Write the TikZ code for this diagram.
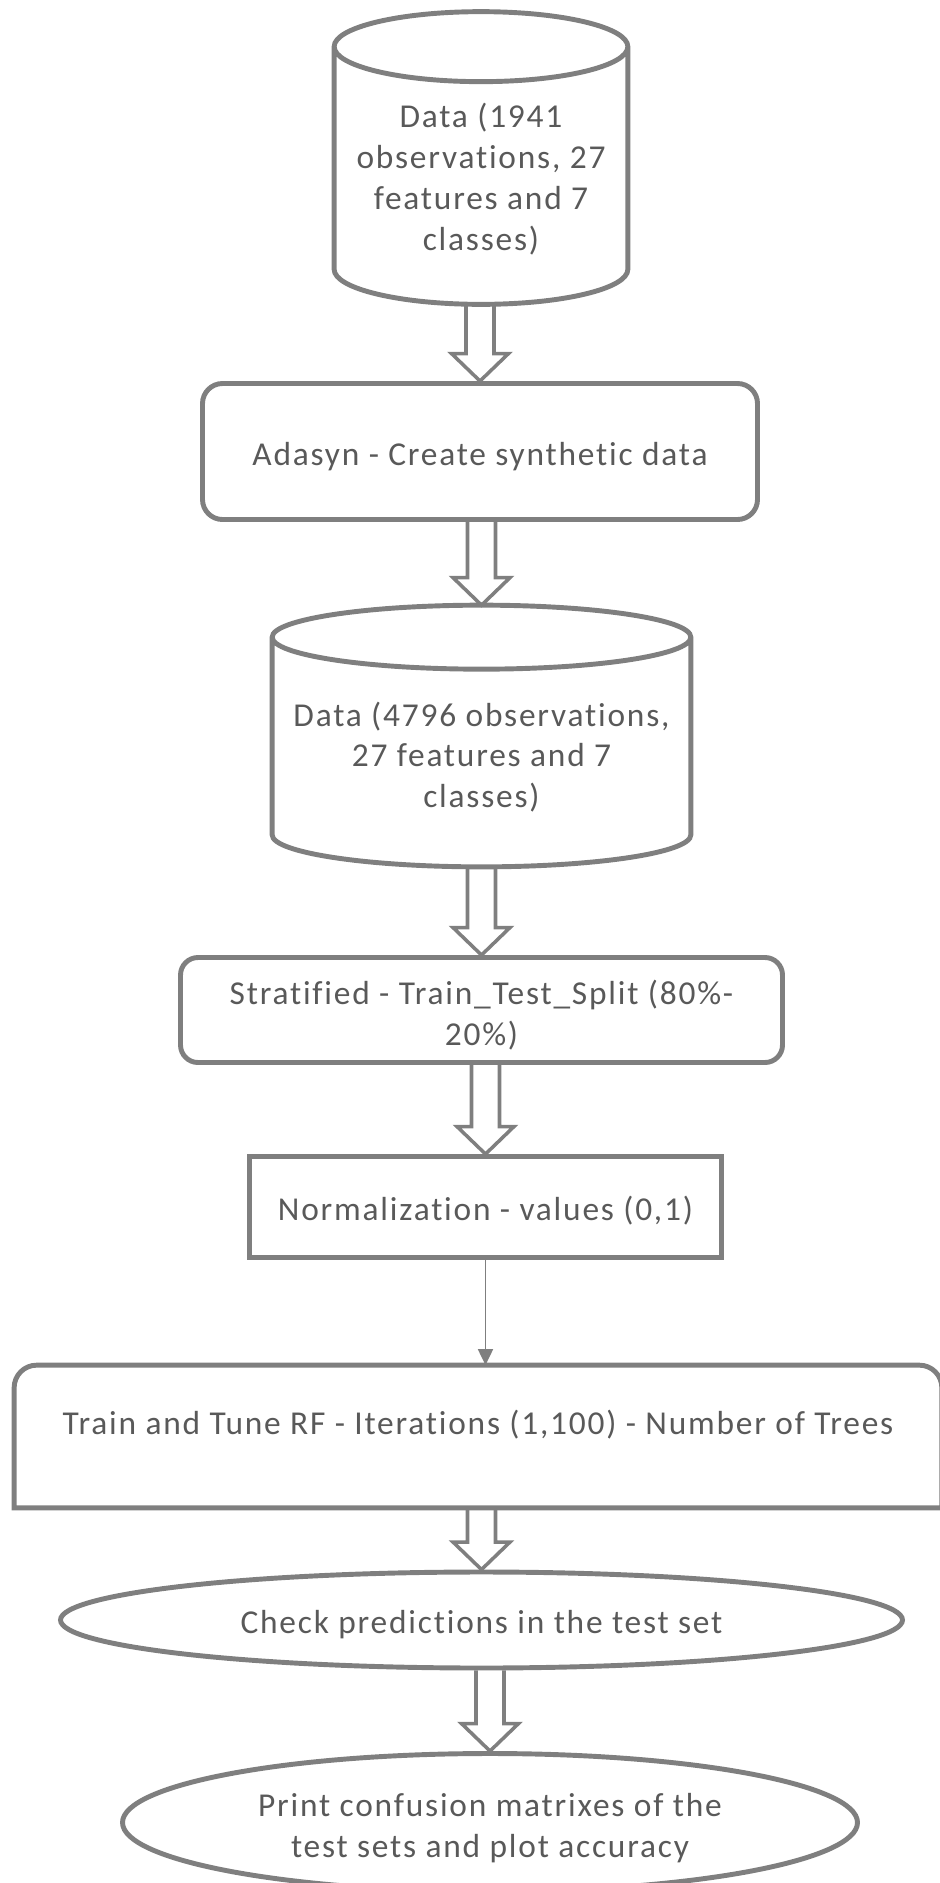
\documentclass[tikz,border=0pt]{standalone}
\usepackage{fontspec}
\setmainfont{Carlito}[LetterSpace=5.4, Ligatures=NoCommon]
\usepackage{tikz}
\usetikzlibrary{shapes.geometric,calc,arrows.meta}
\definecolor{edgegray}{HTML}{7F7F7F}
\definecolor{inkgray}{HTML}{595959}
\tikzset{
  plain/.style={text=inkgray, font=\fontsize{19}{23.2}\selectfont, inner sep=0pt},
  txt/.style={plain, align=center},
  edge/.style={draw=edgegray, line width=2.8pt},
  box/.style={txt, edge},
  oneline/.style={text height=0.62cm, text depth=0.08cm},
  db/.style={inner sep=0pt},
  hollow/.style={draw=edgegray, line width=2pt, line join=miter},
  thinarr/.style={draw=edgegray, line width=1pt, -{Triangle[length=0.32cm,width=0.3cm]}}
}
\newcommand{\blockarrow}[2]{%
  \coordinate (tail) at (#1.south -| #2.north);
  \draw[hollow] ($(tail)+(-0.28,0)$) -- ($(#2.north)+(-0.28,0.55)$) -- ($(#2.north)+(-0.57,0.55)$) -- (#2.north) -- ($(#2.north)+(0.57,0.55)$) -- ($(#2.north)+(0.28,0.55)$) -- ($(tail)+(0.28,0)$);
}
\newcommand{\dbshape}[2]{%
  \draw[edge] let \p1=($(#1.east)-(#1.west)$), \n1={0.5*\x1} in
    ($(#1.north west)+(0,-#2)$) -- ($(#1.south west)+(0,#2)$)
    arc[start angle=180, end angle=360, x radius=\n1, y radius=#2]
    -- ($(#1.north east)+(0,-#2)$)
    arc[start angle=0, end angle=180, x radius=\n1, y radius=#2]
    arc[start angle=180, end angle=360, x radius=\n1, y radius=#2];
}
\newcommand{\firstline}{\rule{0pt}{0.68cm}}

\begin{document}
\begin{tikzpicture}
\useasboundingbox (0,0) rectangle (18.78,-37.66);
\node[db, minimum width=5.86cm, minimum height=5.84cm] (data1) at (9.62,-3.16) {};
\dbshape{data1}{0.7cm}
\node[txt] (data1txt) at ([yshift=-0.42cm]data1.center) {Data (1941\\observations, 27\\features and 7\\classes)};
\node[box, oneline, rounded corners=0.4cm, minimum width=11.1cm, minimum height=2.72cm] (adasyn) at (9.6,-9.03) {Adasyn - Create synthetic data};
\node[db, minimum width=8.36cm, minimum height=5.22cm] (data2) at (9.63,-14.72) {};
\dbshape{data2}{0.64cm}
\node[txt] (data2txt) at ([yshift=-0.42cm]data2.center) {Data (4796 observations,\\27 features and 7\\classes)};
\node[box, rounded corners=0.35cm, minimum width=12.04cm, minimum height=2.1cm] (split) at (9.63,-20.2) {\firstline Stratified - Train\_Test\_Split (80\%-\\20\%)};
\node[box, oneline, minimum width=9.44cm, minimum height=2.02cm] (norm) at (9.71,-24.14) {Normalization - values (0,1)};
\node[plain, text height=0.5cm, text depth=0.6cm, minimum width=18.54cm, minimum height=2.84cm] (train) at (9.56,-28.73) {Train and Tune RF - Iterations (1,100) - Number of Trees};
\draw[edge] (train.south west) [rounded corners=0.45cm] -- (train.north west) -- (train.north east) [sharp corners] -- (train.south east) -- cycle;
\node[box, oneline, ellipse, minimum width=16.84cm, minimum height=1.92cm] (check) at (9.63,-32.4) {Check predictions in the test set};
\node[box, ellipse, minimum width=14.7cm, minimum height=2.76cm] (print) at (9.8,-36.45) {\firstline Print confusion matrixes of the\\test sets and plot accuracy};
\foreach \a/\b in {data1/adasyn, adasyn/data2, data2/split, split/norm, train/check, check/print}
{
  \blockarrow{\a}{\b}
}
\draw[thinarr] (norm.south) -- (norm.south |- train.north);
\end{tikzpicture}
\end{document}
